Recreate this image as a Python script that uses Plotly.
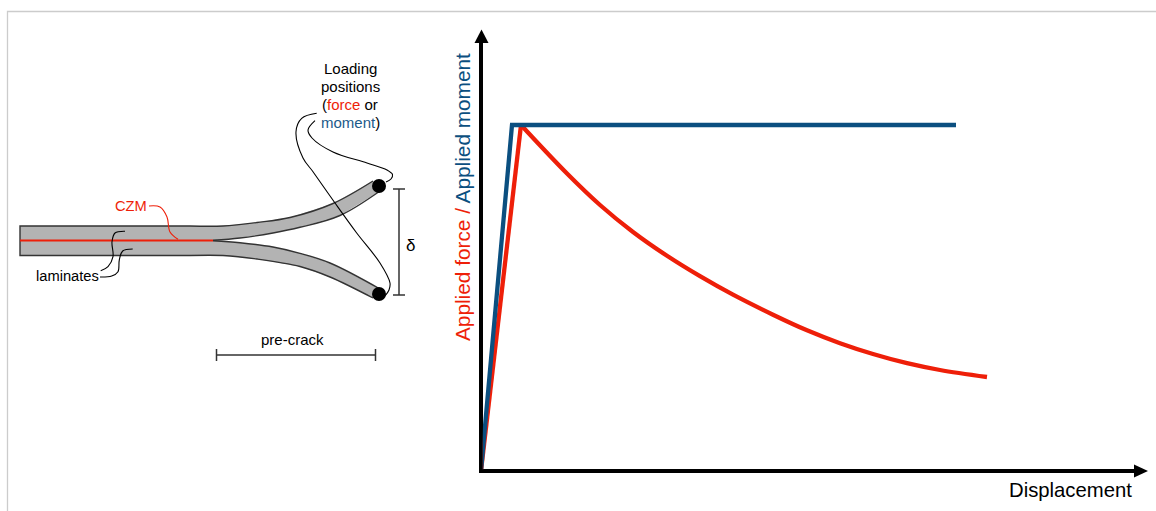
import plotly.graph_objects as go

W, H = 1156, 511
RED = "#ee1f09"
BLUE = "#0b4f80"
BLUE_TEXT = "#1c5a8a"
GREY = "#b3b3b3"
DARK = "#333333"

# ---- load-displacement chart (arbitrary units, no ticks) ----
moment_disp = [0, 31, 475]
moment_val = [0, 346, 346]
force_rise_disp = [0, 40]
force_rise_val = [0, 346]
force_decay_disp = [40, 86, 119, 152, 186, 219, 252, 292, 326, 359, 392, 426, 459, 506]
force_decay_val = [346, 297.5, 266, 239, 215.2, 194.8, 176.3, 156.3, 140.7, 127.8, 117, 107.8, 101, 94]

# ---- specimen schematic (drawing units) ----
frame_x = [1156, 7.5, 7.5]
frame_y = [11.5, 11.5, 511]
x_arrowhead_x = [1134, 1148, 1134, 1134]
x_arrowhead_y = [464.5, 471, 477.5, 464.5]
y_arrowhead_x = [474.5, 481.5, 488.5, 474.5]
y_arrowhead_y = [43, 29.5, 43, 43]
base_left_x = [190, 20, 20, 190]
base_left_y = [226, 226, 255.5, 255.5]
upper_top_x = [190, 223, 257, 290, 333, 373]
upper_top_y = [226, 226, 222.5, 217.5, 203.5, 181]
upper_bot_x = [213, 240, 273, 300, 340, 380]
upper_bot_y = [240.3, 238, 233, 227.3, 215.5, 191]
lower_top_x = [213, 240, 273, 300, 330, 380]
lower_top_y = [240.7, 242.7, 247, 253.3, 263, 289]
lower_bot_x = [190, 223, 257, 300, 330, 373]
lower_bot_y = [255.5, 255.5, 259, 266.5, 277, 298]
specimen_x = [20] + upper_top_x + upper_bot_x[::-1] + lower_top_x + lower_bot_x[::-1] + [20]
specimen_y = [226] + upper_top_y + upper_bot_y[::-1] + lower_top_y + lower_bot_y[::-1] + [255.5]
czm_x = [20, 213]
czm_y = [240.5, 240.5]
load_x = [379, 379]
load_y = [186, 294]
delta_x = [393, 405, None, 399, 399, None, 393, 405]
delta_y = [189, 189, None, 189, 295, None, 295, 295]
precrack_x = [216.5, 216.5, None, 216.5, 375.5, None, 375.5, 375.5]
precrack_y = [349, 361, None, 355, 355, None, 349, 361]
czm_leader_x = [149, 160, 167, 170, 178]
czm_leader_y = [206, 207, 217, 232, 239.3]
lam_leader_a_x = [125, 115, 112, 113, 108, 100.7]
lam_leader_a_y = [231.3, 233, 241.7, 256.7, 266.7, 270.7]
lam_leader_b_x = [132.7, 122.7, 119.3, 118, 111.7, 100]
lam_leader_b_y = [249, 251, 260, 271.7, 276, 277]
load_leader_a_x = [315, 308, 312, 333, 367, 387, 392.5, 391, 386]
load_leader_a_y = [120.7, 130, 138, 152, 163, 170, 174.5, 179, 182]
load_leader_b_x = [316.7, 301.7, 296, 303, 313, 335, 356.7, 380, 390, 389, 385]
load_leader_b_y = [113.3, 118.3, 131.7, 158, 171.7, 203, 233, 263, 283, 290, 296]

fig = go.Figure()


def line(x, y, color="black", width=1.2, shape="linear", xa="x", ya="y", name=None):
    fig.add_trace(go.Scatter(x=x, y=y, mode="lines", xaxis=xa, yaxis=ya, name=name,
                             line=dict(color=color, width=width, shape=shape),
                             cliponaxis=False, hoverinfo="skip"))


def solid(x, y, color, name=None):
    fig.add_trace(go.Scatter(x=x, y=y, mode="lines", fill="toself", fillcolor=color, name=name,
                             line=dict(width=0, color=color), hoverinfo="skip", cliponaxis=False))


line(frame_x, frame_y, "#cccccc", 1.3, name="frame")
solid(specimen_x, specimen_y, GREY, "laminates")
line(base_left_x, base_left_y, DARK, 1.4, name="laminate edge")
for ex, ey in [(upper_top_x, upper_top_y), (upper_bot_x, upper_bot_y),
               (lower_top_x, lower_top_y), (lower_bot_x, lower_bot_y)]:
    line(ex, ey, DARK, 1.4, "spline", name="laminate edge")
line(czm_x, czm_y, RED, 2.2, name="CZM")
line(delta_x, delta_y, DARK, 1.5, name="delta")
line(precrack_x, precrack_y, DARK, 1.5, name="pre-crack")
for lx, ly, col in [(czm_leader_x, czm_leader_y, RED),
                    (lam_leader_a_x, lam_leader_a_y, "black"),
                    (lam_leader_b_x, lam_leader_b_y, "black"),
                    (load_leader_a_x, load_leader_a_y, "black"),
                    (load_leader_b_x, load_leader_b_y, "black")]:
    line(lx, ly, col, 1.1, "spline")
fig.add_trace(go.Scatter(x=load_x, y=load_y, mode="markers", name="loading positions",
                         marker=dict(color="black", size=14), hoverinfo="skip"))
solid(x_arrowhead_x, x_arrowhead_y, "black", "x arrow")
solid(y_arrowhead_x, y_arrowhead_y, "black", "y arrow")

# chart
line(force_rise_disp, force_rise_val, RED, 4.3, xa="x2", ya="y2", name="Applied force")
line(force_decay_disp, force_decay_val, RED, 4.3, "spline", xa="x2", ya="y2", name="Applied force")
line(moment_disp, moment_val, BLUE, 4.3, xa="x2", ya="y2", name="Applied moment")

F = "Liberation Sans, Arial, sans-serif"


def label(text, x, y, size=14.7, color="black", angle=0, xanchor="center"):
    fig.add_annotation(text=text, x=x, y=y, xref="x", yref="y", showarrow=False, textangle=angle,
                       xanchor=xanchor, yanchor="middle", font=dict(family=F, size=size, color=color))


label("CZM", 131, 206, color=RED)
label("laminates", 67, 276)
label("pre-crack", 292, 339.5, size=15)
label("δ", 410.5, 245, size=17)
label("Loading", 350, 68, size=15)
label("positions", 350, 86.3, size=15)
label(f'(<span style="color:{RED}">force</span> or', 350, 104.5, size=15)
label(f'<span style="color:{BLUE_TEXT}">moment</span>)', 350, 122.5, size=15)
label("Displacement", 1070.5, 490, size=20.3)
label(f'<span style="color:{RED}">Applied force / </span><span style="color:{BLUE}">Applied moment</span>',
      462, 197, size=20.8, angle=-90)

hidden = dict(visible=False, showgrid=False, zeroline=False)
axis2 = dict(showgrid=False, zeroline=False, showticklabels=False, ticks="", showline=True,
             linecolor="black", linewidth=3.5, layer="below traces")
fig.update_layout(
    width=W, height=H, margin=dict(l=0, r=0, t=0, b=0), autosize=False,
    paper_bgcolor="white", plot_bgcolor="rgba(0,0,0,0)", showlegend=False,
    xaxis=dict(domain=[0, 1], range=[0, W], **hidden),
    yaxis=dict(domain=[0, 1], range=[H, 0], **hidden),
    xaxis2=dict(domain=[482.75 / W, 1141 / W], range=[1.75, 660], anchor="y2", **axis2),
    yaxis2=dict(domain=[(H - 469.25) / H, (H - 36) / H], range=[1.75, 435], anchor="x2", **axis2),
)
fig.write_html("out.html", post_script="document.body.style.margin='0';", config=dict(displayModeBar=False))
